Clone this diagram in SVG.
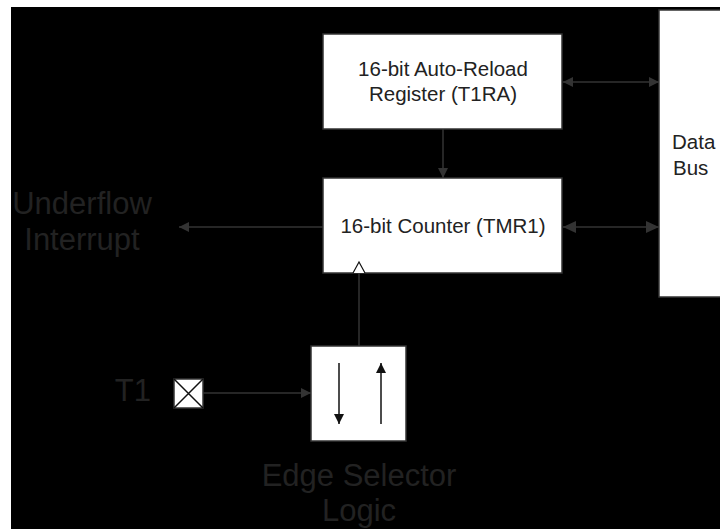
<svg xmlns="http://www.w3.org/2000/svg" width="720" height="529" viewBox="0 0 720 529">
  <style>
    .box { fill: #ffffff; stroke: #333333; stroke-width: 1.5; }
    .wire { fill: none; stroke: #333333; stroke-width: 1.5; }
    .inner { fill: none; stroke: #111111; stroke-width: 1.5; }
    .label { font-family: "Liberation Sans", Arial, sans-serif; font-size: 20.5px; fill: #222222; text-anchor: middle; }
    .outer { font-family: "Liberation Sans", Arial, sans-serif; font-size: 31px; fill: #222222; text-anchor: middle; }
  </style>
  <defs>
    <marker id="headS" viewBox="0 0 10 10" refX="10" refY="5" markerWidth="10" markerHeight="10" markerUnits="userSpaceOnUse" orient="auto-start-reverse">
      <path d="M0,0 L10,5 L0,10 Z" fill="#333333"/>
    </marker>
    <marker id="headL" viewBox="0 0 13 12" refX="13" refY="6" markerWidth="13" markerHeight="12" markerUnits="userSpaceOnUse" orient="auto-start-reverse">
      <path d="M0,0 L13,6 L0,12 Z" fill="#333333"/>
    </marker>
    <marker id="headIn" viewBox="0 0 10 10" refX="10" refY="5" markerWidth="10" markerHeight="10" markerUnits="userSpaceOnUse" orient="auto">
      <path d="M0,0 L10,5 L0,10 Z" fill="#111111"/>
    </marker>
  </defs>

  <!-- page -->
  <rect x="0" y="0" width="720" height="529" fill="#ffffff"/>
  <rect x="11" y="7" width="709" height="522" fill="#000000"/>

  <!-- connectors -->
  <g id="connectors">
    <line class="wire" x1="563" y1="82" x2="659" y2="82" marker-start="url(#headS)" marker-end="url(#headS)"/>
    <line class="wire" x1="563" y1="227" x2="659" y2="227" marker-start="url(#headL)" marker-end="url(#headL)"/>
    <line class="wire" x1="443" y1="129" x2="443" y2="178" marker-end="url(#headS)"/>
    <line class="wire" x1="323" y1="227" x2="179" y2="227" marker-end="url(#headS)"/>
    <line class="wire" x1="203" y1="393" x2="311" y2="393" marker-end="url(#headS)"/>
    <line class="wire" x1="359" y1="273" x2="359" y2="346"/>
  </g>

  <g id="reload-register">
    <rect class="box" x="323" y="34" width="239" height="95"/>
    <text class="label" x="443" y="76">16-bit Auto-Reload</text>
    <text class="label" x="443" y="101">Register (T1RA)</text>
  </g>

  <g id="counter">
    <rect class="box" x="323" y="178" width="239" height="95"/>
    <text class="label" x="443" y="233">16-bit Counter (TMR1)</text>
    <!-- clock input -->
    <path d="M353,273 L359,262 L365,273" fill="#ffffff" stroke="#111111" stroke-width="1.2"/>
  </g>

  <g id="data-bus">
    <rect class="box" x="659" y="10" width="80" height="287"/>
    <text class="label" x="672" y="149" style="text-anchor:start">Data</text>
    <text class="label" x="673" y="175" style="text-anchor:start">Bus</text>
  </g>

  <g id="edge-selector">
    <rect class="box" x="311" y="346" width="95" height="95"/>
    <line class="inner" x1="339" y1="363" x2="339" y2="424" marker-end="url(#headIn)"/>
    <line class="inner" x1="381" y1="424" x2="381" y2="363" marker-end="url(#headIn)"/>
  </g>

  <g id="t1-pin">
    <rect class="box" x="174" y="379" width="29" height="29"/>
    <path class="inner" d="M174,379 L203,408 M203,379 L174,408" stroke-width="1.2"/>
  </g>

  <g id="outer-labels">
    <text class="outer" x="82" y="214">Underflow</text>
    <text class="outer" x="82" y="250">Interrupt</text>
    <text class="outer" x="151" y="401" style="text-anchor:end">T1</text>
    <text class="outer" x="359" y="486">Edge Selector</text>
    <text class="outer" x="359" y="521">Logic</text>
  </g>
</svg>
